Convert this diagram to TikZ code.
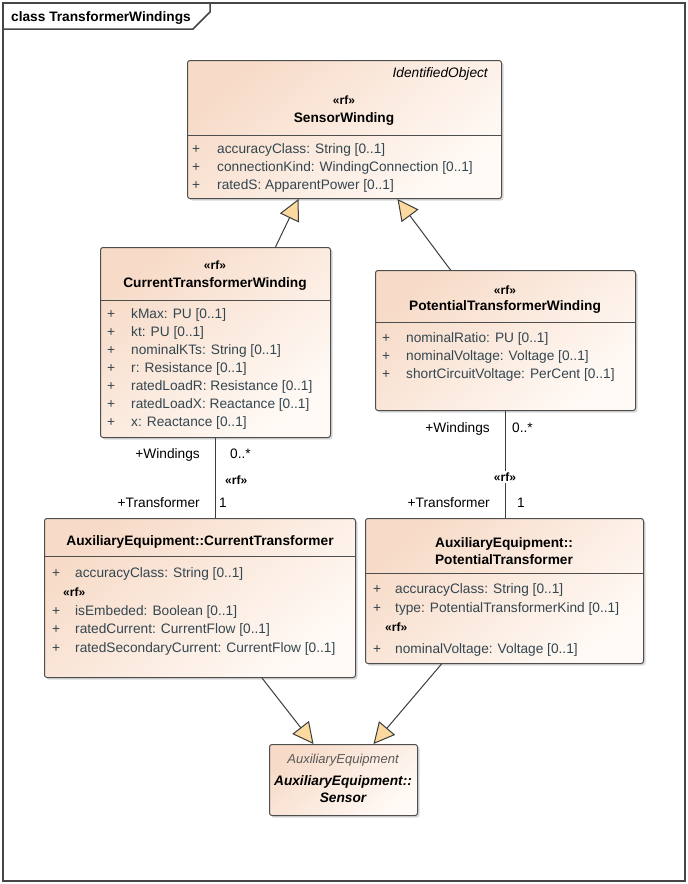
\documentclass[tikz,border=0pt]{standalone}
\usepackage{fontspec}
\setmainfont{Liberation Sans}
\usetikzlibrary{arrows.meta,shadows}
\definecolor{boxline}{RGB}{78,78,78}
\definecolor{lineC}{RGB}{60,60,60}
\definecolor{attrcol}{RGB}{52,70,80}
\definecolor{boxA}{RGB}{247,219,200}
\definecolor{boxB}{RGB}{255,250,246}
\definecolor{arrowF}{RGB}{252,217,158}
\definecolor{frameC}{RGB}{70,70,70}
\newcommand{\attrrow}[5]{\node[attr] (#1p) at (#2,#4) {+}; \node[attr] (#1) at (#3,#4) {#5};}
\begin{document}
\begin{tikzpicture}[x=1pt,y=-1pt,
  box/.style={draw=boxline, line width=1pt, rounded corners=2.5pt, top color=boxA, bottom color=boxB, shading angle=40,
    drop shadow={shadow xshift=2pt, shadow yshift=-2pt, opacity=0.3}, inner sep=0pt, anchor=north west},
  divider/.style={draw=boxline, line width=1pt},
  attr/.style={inner sep=0pt, anchor=base west, text=attrcol, font=\fontsize{13.7}{16}\selectfont},
  lbl/.style={inner sep=0pt, text=black, font=\fontsize{13.7}{16}\selectfont},
  cname/.style={inner sep=0pt, anchor=base, font=\fontsize{13.7}{17}\selectfont\bfseries},
  stereo/.style={inner sep=0pt, anchor=base, font=\fontsize{12}{14}\selectfont\bfseries},
  ital/.style={inner sep=0pt, font=\fontsize{13.7}{16}\selectfont\itshape},
  gen/.style={draw=lineC, line width=1pt, -{Triangle[length=21pt,width=21pt,fill=arrowF]}},
  assoc/.style={draw=lineC, line width=1pt},
  frameline/.style={draw=frameC, line width=1.5pt},
]
\useasboundingbox (0,0) rectangle (688,884);

% frame
\draw[frameline] (3,3) rectangle (685,881);
\draw[frameline] (3,29) -- (193,29) -- (210,12) -- (210,3);
\node[inner sep=0pt, anchor=base west, font=\fontsize{13.7}{16}\selectfont\bfseries] (title) at (11,21) {class TransformerWindings};

% SensorWinding
\node[box, minimum width=314pt, minimum height=138pt] (sw) at (187,60) {};
\draw[divider] (sw.west |- 0,135) -- (sw.east |- 0,135);
\node[ital, anchor=base east] (swio) at (488,77) {IdentifiedObject};
\node[stereo] (swst) at (344,104) {«rf»};
\node[cname] (swnm) at (344,122) {SensorWinding};
\attrrow{swa1}{192}{217}{153}{accuracyClass: String [0..1]}
\attrrow{swa2}{192}{217}{171}{connectionKind: WindingConnection [0..1]}
\attrrow{swa3}{192}{217}{189}{ratedS: ApparentPower [0..1]}

% CurrentTransformerWinding
\node[box, minimum width=230pt, minimum height=190pt] (ctw) at (100,247) {};
\draw[divider] (ctw.west |- 0,300) -- (ctw.east |- 0,300);
\node[stereo] (ctwst) at (215,269) {«rf»};
\node[cname] (ctwnm) at (215,287) {CurrentTransformerWinding};
\attrrow{ctwa1}{107}{131}{318}{kMax: PU [0..1]}
\attrrow{ctwa2}{107}{131}{336}{kt: PU [0..1]}
\attrrow{ctwa3}{107}{131}{354}{nominalKTs: String [0..1]}
\attrrow{ctwa4}{107}{131}{372}{r: Resistance [0..1]}
\attrrow{ctwa5}{107}{131}{390}{ratedLoadR: Resistance [0..1]}
\attrrow{ctwa6}{107}{131}{408}{ratedLoadX: Reactance [0..1]}
\attrrow{ctwa7}{107}{131}{426}{x: Reactance [0..1]}

% PotentialTransformerWinding
\node[box, minimum width=260pt, minimum height=140pt] (ptw) at (375,270) {};
\draw[divider] (ptw.west |- 0,322) -- (ptw.east |- 0,322);
\node[stereo] (ptwst) at (505,294) {«rf»};
\node[cname] (ptwnm) at (505,310) {PotentialTransformerWinding};
\attrrow{ptwa1}{382}{406}{342}{nominalRatio: PU [0..1]}
\attrrow{ptwa2}{382}{406}{360}{nominalVoltage: Voltage [0..1]}
\attrrow{ptwa3}{382}{406}{378}{shortCircuitVoltage: PerCent [0..1]}

% AuxiliaryEquipment::CurrentTransformer
\node[box, minimum width=311pt, minimum height=159pt] (act) at (44,518) {};
\draw[divider] (act.west |- 0,556) -- (act.east |- 0,556);
\node[cname] (actnm) at (200,545) {AuxiliaryEquipment::CurrentTransformer};
\attrrow{acta1}{52}{75}{577}{accuracyClass: String [0..1]}
\node[stereo, anchor=base west] (actst) at (63,596) {«rf»};
\attrrow{acta2}{52}{75}{615}{isEmbeded: Boolean [0..1]}
\attrrow{acta3}{52}{75}{633}{ratedCurrent: CurrentFlow [0..1]}
\attrrow{acta4}{52}{75}{652}{ratedSecondaryCurrent: CurrentFlow [0..1]}

% AuxiliaryEquipment::PotentialTransformer
\node[box, minimum width=278pt, minimum height=145pt] (apt) at (365,518) {};
\draw[divider] (apt.west |- 0,573) -- (apt.east |- 0,573);
\node[cname] (aptnm1) at (504,547) {AuxiliaryEquipment::};
\node[cname] (aptnm2) at (504,564) {PotentialTransformer};
\attrrow{apta1}{373}{395}{593}{accuracyClass: String [0..1]}
\attrrow{apta2}{373}{395}{612}{type: PotentialTransformerKind [0..1]}
\node[stereo, anchor=base west] (aptst) at (385,631) {«rf»};
\attrrow{apta3}{373}{395}{653}{nominalVoltage: Voltage [0..1]}

% AuxiliaryEquipment::Sensor
\node[box, minimum width=148pt, minimum height=71pt] (sen) at (269,744) {};
\node[inner sep=0pt, anchor=base, text=black!65, font=\fontsize{13}{15}\selectfont\itshape] (senab) at (343,763) {AuxiliaryEquipment};
\node[cname, font=\fontsize{13.7}{17}\selectfont\bfseries\itshape] (sennm1) at (343,785) {AuxiliaryEquipment::};
\node[cname, font=\fontsize{13.7}{17}\selectfont\bfseries\itshape] (sennm2) at (343,802) {Sensor};

% generalizations
\draw[gen] ([xshift=60pt]ctw.north) -- ([xshift=-46pt]sw.south);
\draw[gen] ([xshift=-55pt]ptw.north) -- ([xshift=53pt]sw.south);
\draw[gen] ([xshift=62pt]act.south) -- ([xshift=-30pt]sen.north);
\draw[gen] ([xshift=-63pt]apt.south) -- ([xshift=30pt]sen.north);

% associations
\draw[assoc] (ctw.south) -- (ctw.south |- act.north);
\node[lbl, anchor=base east] (ctwrole) at (200,458) {+Windings};
\node[lbl, anchor=base west] (ctwmul) at (230,458) {0..*};
\node[stereo, anchor=base west] (ctast) at (225,484) {«rf»};
\node[lbl, anchor=base east] (actrole) at (200,507) {+Transformer};
\node[lbl, anchor=base west] (actmul) at (219,507) {1};

\draw[assoc] (ptw.south) -- (ptw.south |- apt.north);
\node[lbl, anchor=base east] (ptwrole) at (490,432) {+Windings};
\node[lbl, anchor=base west] (ptwmul) at (512,432) {0..*};
\node[stereo, fill=white, inner sep=1.5pt] (ptast) at (505,481) {«rf»};
\node[lbl, anchor=base east] (aptrole) at (490,507) {+Transformer};
\node[lbl, anchor=base west] (aptmul) at (517,507) {1};
\end{tikzpicture}
\end{document}
